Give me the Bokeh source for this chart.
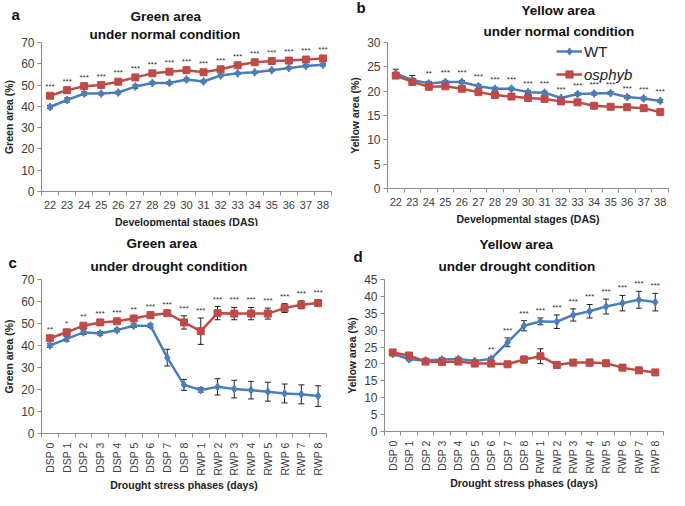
from bokeh.plotting import figure
from bokeh.models import (FactorRange, Range1d, LinearAxis, CategoricalAxis, FixedTicker,
                          ColumnDataSource, Whisker, TeeHead, Legend, LegendItem, Label, Title)
from bokeh.layouts import column, row
from bokeh.embed import file_html
from bokeh.resources import INLINE

# ---------------- data ----------------
das = ["22", "23", "24", "25", "26", "27", "28", "29", "30", "31", "32", "33", "34", "35", "36", "37", "38"]
phases = ["DSP 0", "DSP 1", "DSP 2", "DSP 3", "DSP 4", "DSP 5", "DSP 6", "DSP 7", "DSP 8",
          "RWP 1", "RWP 2", "RWP 3", "RWP 4", "RWP 5", "RWP 6", "RWP 7", "RWP 8"]

a_wt = [39.7, 43.0, 46.0, 46.0, 46.5, 49.3, 51.0, 51.0, 52.6, 51.7, 54.5, 55.5, 56.0, 57.0, 58.0, 59.0, 59.5]
a_wt_err = [0.8, 1.0, 0.8, 0.6, 0.6, 0.8, 0.6, 0.6, 0.7, 0.6, 0.6, 0.5, 0.5, 0.5, 0.5, 0.5, 0.5]
a_os = [45.0, 47.6, 49.5, 50.0, 51.6, 53.6, 55.5, 56.3, 57.0, 56.0, 57.4, 59.3, 60.7, 61.3, 61.5, 62.0, 62.5]
a_os_err = [0.6, 0.6, 0.6, 0.6, 0.6, 0.6, 0.6, 0.6, 0.6, 0.6, 0.6, 0.6, 0.6, 0.6, 0.6, 0.6, 0.6]
a_sig = ["***", "***", "***", "***", "***", "***", "***", "***", "***", "***", "***", "***", "***", "***", "***", "***", "***"]

b_wt = [23.6, 22.3, 21.6, 21.9, 21.9, 21.0, 20.5, 20.5, 19.8, 19.7, 18.6, 19.4, 19.5, 19.6, 18.8, 18.5, 18.0]
b_wt_err = [0.9, 0.9, 0.4, 0.3, 0.3, 0.4, 0.3, 0.3, 0.3, 0.3, 0.3, 0.3, 0.3, 0.3, 0.3, 0.3, 0.3]
b_os = [23.2, 21.9, 20.9, 21.0, 20.5, 19.8, 19.2, 18.9, 18.6, 18.4, 17.9, 17.7, 17.0, 16.8, 16.7, 16.5, 15.7]
b_os_err = [0.6, 0.5, 0.3, 0.3, 0.3, 0.3, 0.3, 0.3, 0.3, 0.3, 0.3, 0.3, 0.3, 0.3, 0.3, 0.3, 0.3]
b_sig = ["", "", "**", "***", "***", "***", "***", "***", "***", "***", "***", "***", "***", "***", "***", "***", "***"]

c_wt = [40.0, 43.0, 46.0, 45.5, 47.0, 49.0, 49.0, 34.5, 22.1, 19.8, 21.2, 20.2, 19.7, 19.0, 18.2, 17.8, 17.0]
c_wt_err = [0.8, 1.0, 1.0, 0.8, 0.8, 0.8, 0.8, 3.8, 2.5, 1.0, 3.7, 4.0, 4.0, 4.3, 4.3, 4.3, 4.7]
c_os = [43.3, 46.0, 49.0, 50.5, 51.0, 52.3, 53.8, 54.7, 50.5, 46.5, 54.7, 54.5, 54.5, 54.5, 57.0, 58.5, 59.3]
c_os_err = [0.6, 0.8, 0.8, 0.6, 0.6, 0.6, 0.6, 0.6, 3.0, 6.0, 3.0, 2.8, 2.8, 2.5, 2.0, 1.8, 1.5]
c_sig = ["**", "*", "**", "***", "***", "**", "***", "***", "***", "***", "***", "***", "***", "***", "***", "***", "***"]

d_wt = [23.0, 21.4, 21.0, 21.3, 21.5, 20.9, 21.5, 26.4, 31.3, 32.6, 32.5, 34.5, 35.6, 37.0, 38.0, 39.0, 38.3]
d_wt_err = [0.6, 0.5, 0.4, 0.5, 0.5, 0.4, 0.5, 1.3, 1.5, 1.0, 2.0, 1.8, 2.0, 2.2, 2.3, 2.5, 2.6]
d_os = [23.4, 22.5, 20.7, 20.6, 20.7, 20.1, 20.1, 19.9, 21.3, 22.3, 19.7, 20.4, 20.4, 20.2, 18.9, 18.1, 17.5]
d_os_err = [0.5, 0.5, 0.4, 0.4, 0.4, 0.4, 0.4, 0.4, 1.0, 2.2, 0.9, 0.9, 1.0, 0.9, 0.8, 0.8, 0.7]
d_sig = ["", "", "", "", "", "", "**", "***", "***", "***", "***", "***", "***", "***", "***", "***", "***"]

a_yticks = [0, 10, 20, 30, 40, 50, 60, 70]
b_yticks = [0, 5, 10, 15, 20, 25, 30]
c_yticks = [0, 10, 20, 30, 40, 50, 60, 70]
d_yticks = [0, 5, 10, 15, 20, 25, 30, 35, 40, 45]

# ---------------- style ----------------
FONT = "Liberation Sans"
BLUE = "#4A7EBB"
RED = "#BE4B48"
AXIS = "#8C8C8C"
TICKTXT = "#404040"


def panel(letter, title1, title2, cats, wt, wt_err, os_, os_err, sig, yticks, ylabel, xlabel,
          fw, fh, bl, br, bt, bb, off1, off2, sub_standoff, rotate, letter_xy):
    p = figure(frame_width=fw, frame_height=fh, output_backend="svg", toolbar_location=None,
               title=None,
               x_range=FactorRange(factors=cats, range_padding=0, factor_padding=0),
               y_range=Range1d(yticks[0], yticks[-1]), x_axis_location=None,
               min_border_left=bl, min_border_right=br, min_border_top=bt, min_border_bottom=bb,
               outline_line_color=None)
    p.xgrid.visible = False
    p.ygrid.visible = False

    for txt, so, off in ((title2, sub_standoff, off2), (title1, 0, off1)):
        p.add_layout(Title(text=txt, align="left", offset=off, standoff=so,
                           text_font=FONT, text_font_size="13.5px", text_font_style="bold",
                           text_color="#111111"), "above")

    # y axis
    ya = p.yaxis[0]
    ya.ticker = FixedTicker(ticks=yticks)
    ya.axis_label = ylabel
    ya.axis_label_text_font = FONT
    ya.axis_label_text_font_size = "10.5px"
    ya.axis_label_text_font_style = "bold"
    ya.axis_label_text_color = "#222222"
    ya.axis_label_standoff = 3
    ya.major_label_text_font = FONT
    ya.major_label_text_font_size = "12px"
    ya.major_label_text_color = TICKTXT
    ya.major_label_standoff = 3
    ya.axis_line_color = AXIS
    ya.major_tick_line_color = AXIS
    ya.major_tick_in = 0
    ya.major_tick_out = 4
    ya.minor_tick_line_color = None

    # x tick marks between categories (Excel style), drawn as minor ticks only
    ta = LinearAxis(ticker=FixedTicker(ticks=[], minor_ticks=list(range(len(cats) + 1))),
                    axis_line_color=AXIS, major_tick_line_color=None,
                    major_tick_in=0, major_tick_out=0,
                    minor_tick_line_color=AXIS, minor_tick_in=0, minor_tick_out=4,
                    major_label_standoff=0, axis_label_standoff=0)
    p.add_layout(ta, "below")
    ca = CategoricalAxis(axis_line_color=None, major_tick_line_color=None,
                         major_tick_in=0, major_tick_out=0,
                         major_label_text_font=FONT,
                         major_label_text_font_size="10.5px" if rotate else "11px",
                         major_label_text_color=TICKTXT, major_label_standoff=5,
                         axis_label=xlabel, axis_label_text_font=FONT,
                         axis_label_text_font_size="10.5px", axis_label_text_font_style="bold",
                         axis_label_text_color="#222222",
                         axis_label_standoff=0 if rotate else 4)
    if rotate:
        ca.major_label_orientation = 1.5707963
    p.add_layout(ca, "below")

    top = [max(w + we, o + oe) for w, we, o, oe in zip(wt, wt_err, os_, os_err)]
    src = ColumnDataSource(dict(x=cats, wt=wt, os=os_,
                                wt_lo=[v - e for v, e in zip(wt, wt_err)],
                                wt_hi=[v + e for v, e in zip(wt, wt_err)],
                                os_lo=[v - e for v, e in zip(os_, os_err)],
                                os_hi=[v + e for v, e in zip(os_, os_err)],
                                top=top, sig=sig))

    l1 = p.line("x", "wt", source=src, line_color=BLUE, line_width=2.5)
    s1 = p.scatter("x", "wt", source=src, marker="diamond", size=8, fill_color=BLUE, line_color=BLUE)
    l2 = p.line("x", "os", source=src, line_color=RED, line_width=2.5)
    s2 = p.scatter("x", "os", source=src, marker="square", size=7, fill_color=RED, line_color=RED)

    for lo, hi in (("wt_lo", "wt_hi"), ("os_lo", "os_hi")):
        w = Whisker(source=src, base="x", lower=lo, upper=hi, dimension="height",
                    line_color="#222222", line_width=1,
                    upper_head=TeeHead(size=6, line_color="#222222", line_width=1),
                    lower_head=TeeHead(size=6, line_color="#222222", line_width=1))
        p.add_layout(w)

    p.text("x", "top", text="sig", source=src, text_align="center", text_baseline="bottom",
           y_offset=-3, text_font_size="8px", text_color="#333333")

    # panel letter, kept in the (otherwise empty) right-hand border panel so it is not clipped
    p.add_layout(Label(x=letter_xy[0], y=letter_xy[1], x_units="screen", y_units="screen",
                       text=letter, text_font=FONT, text_font_size="15px", text_font_style="bold",
                       text_baseline="middle", text_color="#111111"), "right")
    return p, (l1, s1, l2, s2)


# frame sizes / borders (px)
pa, ra = panel("a", "Green area", "under normal condition", das, a_wt, a_wt_err, a_os, a_os_err,
               a_sig, a_yticks, "Green area (%)", "Developmental stages (DAS)",
               290, 149, 32, 12, 36, 41, 89, 48, 2, False, (-320, 177))
pb, rb = panel("b", "Yellow area", "under normal condition", das, b_wt, b_wt_err, b_os, b_os_err,
               b_sig, b_yticks, "Yellow area (%)", "Developmental stages (DAS)",
               281, 146, 44, 10, 42, 38, 134, 96, 8, False, (-312, 181))
pc, rc = panel("c", "Green area", "under drought condition", phases, c_wt, c_wt_err, c_os, c_os_err,
               c_sig, c_yticks, "Green area (%)", "Drought stress phases (days)",
               285, 154, 37, 12, 46, 64, 85, 49, 12, True, (-318, 171))
pd_, rd = panel("d", "Yellow area", "under drought condition", phases, d_wt, d_wt_err, d_os, d_os_err,
                d_sig, d_yticks, "Yellow area (%)", "Drought stress phases (days)",
                279, 152, 46, 10, 52, 60, 95, 54, 11, True, (-310, 175))

# legend in panel b (two legends so that only "osphyb" is italic)
l1, s1, l2, s2 = rb
common = dict(label_text_font=FONT, label_text_font_size="15px", label_text_color="#222222",
              glyph_width=26, glyph_height=18, label_height=18, padding=0, margin=0, spacing=0,
              label_standoff=2, background_fill_alpha=0, border_line_color=None)
leg_wt = Legend(items=[LegendItem(label="WT", renderers=[l1, s1])], location=(169, 146 - 18), **common)
leg_os = Legend(items=[LegendItem(label="osphyb", renderers=[l2, s2])], location=(169, 146 - 41),
                label_text_font_style="italic", **common)
pb.add_layout(leg_wt, "center")
pb.add_layout(leg_os, "center")

layout = column(row(pa, pb), row(pc, pd_))
open("out.html", "w").write(file_html(layout, INLINE))
